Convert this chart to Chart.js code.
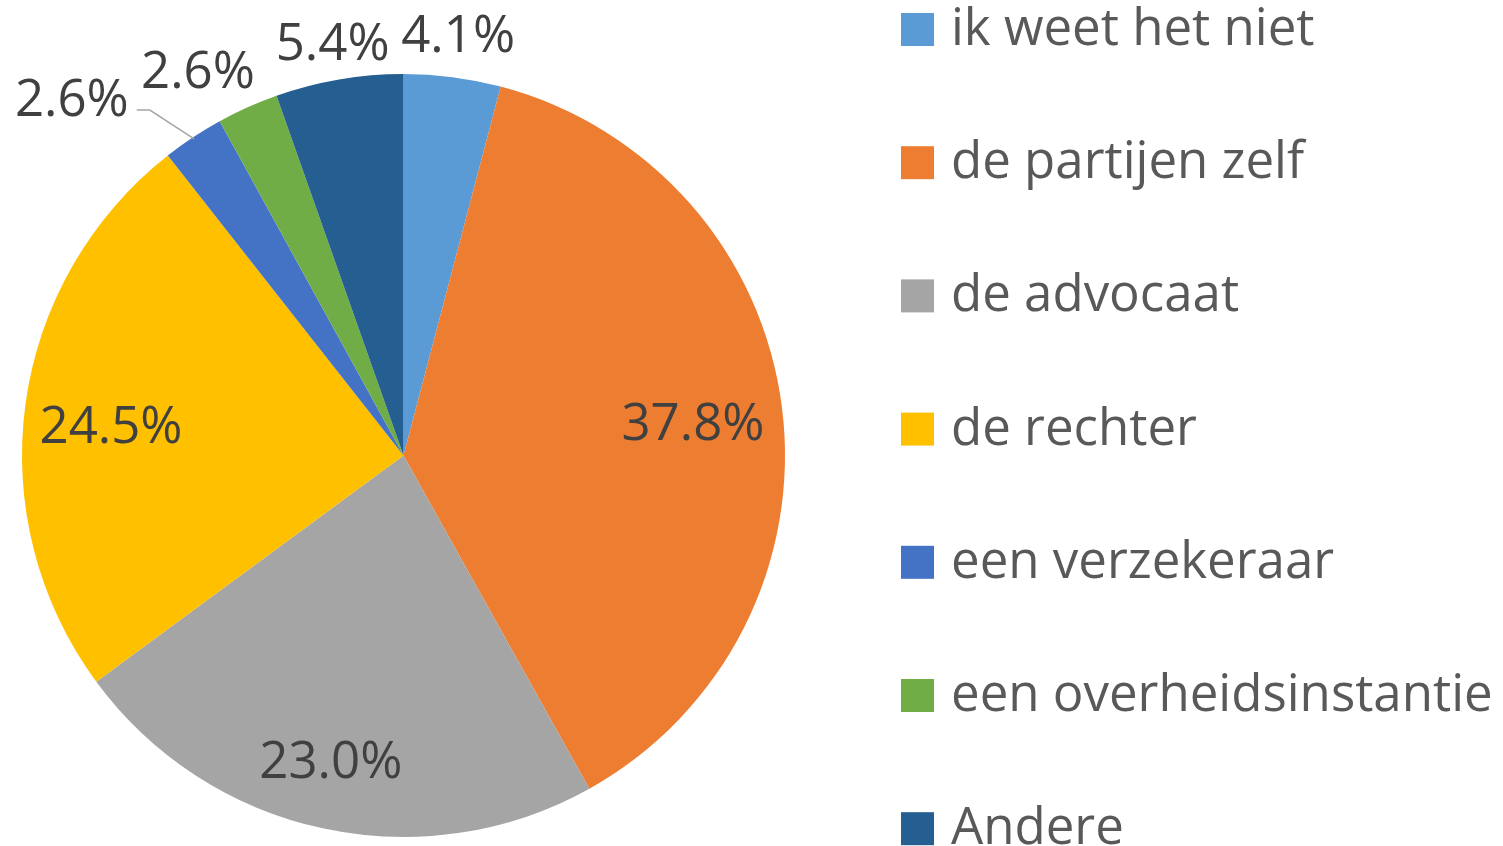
<!DOCTYPE html>
<html>
<head>
<meta charset="utf-8">
<script src="https://cdn.jsdelivr.net/npm/chart.js@4"></script>
<style>
  html, body { margin: 0; padding: 0; background: #fff; }
  #wrap { width: 1503px; height: 846px; }
</style>
</head>
<body>
<div id="wrap"><canvas id="chart" width="1503" height="846"></canvas></div>
<script>
const categories = [
  "ik weet het niet",
  "de partijen zelf",
  "de advocaat",
  "de rechter",
  "een verzekeraar",
  "een overheidsinstantie",
  "Andere"
];
const shares = [4.1, 37.8, 23.0, 24.5, 2.6, 2.6, 5.4];
const sliceColors = ["#5B9BD5", "#ED7D31", "#A5A5A5", "#FFC000", "#4472C4", "#70AD47", "#255E91"];

// where each percentage sits: distance as a fraction of the pie radius, small angle nudge (deg)
const labelRadius = [1.115, 0.764, 0.82, 0.771, 1.28, 1.147, 1.1];
const labelNudge = [0, 0.5, 1.2, -1.7, -9.3, -3.9, 0];
const labelLeader = [false, false, false, false, true, false, false];

const FONT = '"Open Sans", "Liberation Sans", sans-serif';

const pieLabels = {
  id: "pieLabels",
  afterDatasetsDraw(chart) {
    const ctx = chart.ctx;
    const meta = chart.getDatasetMeta(0);
    ctx.save();
    ctx.font = "51px " + FONT;
    ctx.fillStyle = "#404040";
    ctx.textAlign = "center";
    ctx.textBaseline = "alphabetic";
    meta.data.forEach((arc, i) => {
      const { x, y, startAngle, endAngle, outerRadius } = arc.getProps(
        ["x", "y", "startAngle", "endAngle", "outerRadius"], true);
      const mid = (startAngle + endAngle) / 2;
      const a = mid + labelNudge[i] * Math.PI / 180;
      const r = outerRadius * labelRadius[i];
      const cx = x + Math.cos(a) * r;
      const cy = y + Math.sin(a) * r;
      const txt = chart.data.datasets[0].data[i].toFixed(1) + "%";
      const m = ctx.measureText(txt);
      ctx.fillText(txt, cx, cy + (m.actualBoundingBoxAscent - m.actualBoundingBoxDescent) / 2);

      if (labelLeader[i]) {
        const sx = cx + m.width / 2 + 8;
        const sy = cy + 13;
        const ex = x + Math.cos(mid) * (outerRadius - 2);
        const ey = y + Math.sin(mid) * (outerRadius - 2);
        ctx.strokeStyle = "#A6A6A6";
        ctx.lineWidth = 1.5;
        ctx.beginPath();
        ctx.moveTo(sx, sy);
        ctx.lineTo(sx + 13, sy);
        ctx.lineTo(ex, ey);
        ctx.stroke();
      }
    });
    ctx.restore();
  }
};

const sideLegend = {
  id: "sideLegend",
  afterDraw(chart) {
    const ctx = chart.ctx;
    const colors = chart.data.datasets[0].backgroundColor;
    ctx.save();
    ctx.font = "51px " + FONT;
    ctx.textAlign = "left";
    ctx.textBaseline = "alphabetic";
    chart.data.labels.forEach((label, i) => {
      const top = 13 + i * 133.2;
      ctx.fillStyle = colors[i];
      ctx.fillRect(901, top, 33, 33);
      ctx.fillStyle = "#595959";
      ctx.fillText(label, 951, top + 32);
    });
    ctx.restore();
  }
};

function draw() {
  const ctx = document.getElementById("chart").getContext("2d");
  new Chart(ctx, {
    type: "pie",
    data: {
      labels: categories,
      datasets: [
        {
          data: shares,
          backgroundColor: sliceColors,
          borderWidth: 0
        }
      ]
    },
    options: {
      responsive: false,
      animation: false,
      devicePixelRatio: 1,
      layout: { padding: { left: 22, top: 74, right: 718, bottom: 9 } },
      plugins: {
        legend: { display: false },
        tooltip: { enabled: false }
      }
    },
    plugins: [pieLabels, sideLegend]
  });
}

if (document.fonts && document.fonts.load) {
  document.fonts.load('51px "Open Sans"').then(draw, draw);
} else {
  draw();
}
</script>
</body>
</html>
